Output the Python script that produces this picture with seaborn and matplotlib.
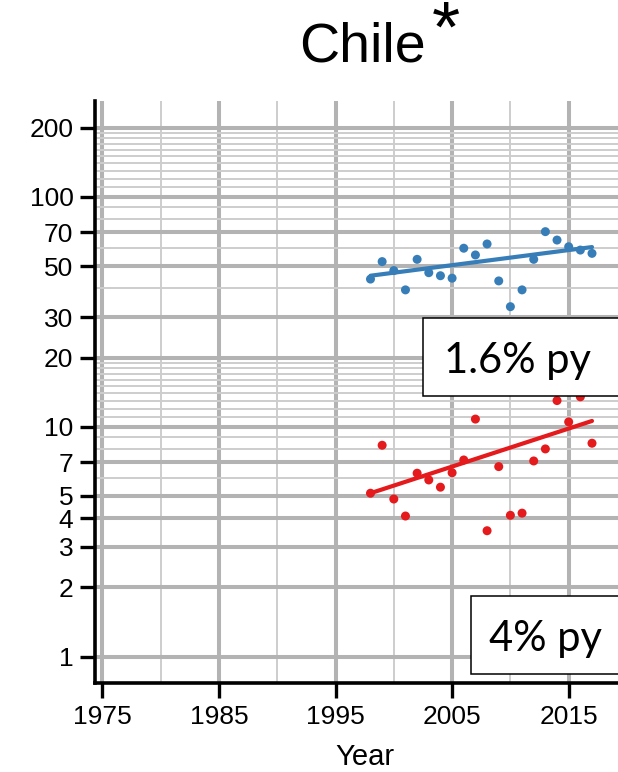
import numpy as np
import pandas as pd
import matplotlib
matplotlib.use("Agg")
import matplotlib.pyplot as plt
from matplotlib.ticker import FixedLocator, NullFormatter
from matplotlib.patches import Rectangle
import seaborn as sns

# ---- data ----
years = [1998, 1999, 2000, 2001, 2002, 2003, 2004, 2005, 2006, 2007,
         2008, 2009, 2010, 2011, 2012, 2013, 2014, 2015, 2016, 2017]
blue_vals = [43.9, 52.3, 47.8, 39.4, 53.5, 46.8, 45.4, 44.3, 59.8, 55.9,
             62.4, 43.1, 33.3, 39.4, 53.5, 70.6, 64.9, 60.7, 58.7, 56.8]
red_vals = [5.14, 8.31, 4.85, 4.09, 6.28, 5.87, 5.46, 6.31, 7.17, 10.8,
            3.53, 6.71, 4.12, 4.21, 7.10, 8.01, 13.0, 10.5, 13.5, 8.48]
# trend lines (start/end of fitted growth)
fit_years = [1998, 2017]
blue_fit = [45.4, 60.5]
red_fit = [5.14, 10.6]
y_ticks = [1, 2, 3, 4, 5, 7, 10, 20, 30, 50, 70, 100, 200]
y_minor = [6, 8, 9, 11, 12, 13, 14, 15, 16, 17, 18, 19, 40, 60, 80, 90,
           110, 120, 130, 140, 150, 160, 170, 180, 190]
x_ticks = [1975, 1985, 1995, 2005, 2015]
x_minor = [1980, 1990, 2000, 2010]
title = "Chile"
blue_label = "1.6% py"
red_label = "4% py"
x_label = "Year"

BLUE = "#377eb8"
RED = "#e41a1c"

sns.set_style("white")
plt.rcParams['font.family'] = ['Liberation Sans', 'DejaVu Sans']
plt.rcParams['text.color'] = 'black'
plt.rcParams['xtick.color'] = 'black'
plt.rcParams['ytick.color'] = 'black'
plt.rcParams['axes.labelcolor'] = 'black'

fig = plt.figure(figsize=(6.18, 7.72), dpi=100)
ax = fig.add_axes([95 / 618, 89 / 772, 1 - 95 / 618, 582 / 772])

df = pd.DataFrame({"year": years, "blue": blue_vals, "red": red_vals})
fit_df = pd.DataFrame({"year": fit_years, "blue": blue_fit, "red": red_fit})

for col, colr in (("blue", BLUE), ("red", RED)):
    sns.scatterplot(data=df, x="year", y=col, color=colr, s=42,
                    edgecolor="none", ax=ax, zorder=3)
    sns.lineplot(data=fit_df, x="year", y=col, color=colr, lw=3.0,
                 ax=ax, zorder=3)

ax.set_yscale("log")
ax.set_ylim(0.768, 261.3)
ax.set_xlim(1974.37, 2019.23)

ax.yaxis.set_major_locator(FixedLocator(y_ticks))
ax.set_yticklabels([str(v) for v in y_ticks])
ax.yaxis.set_minor_locator(FixedLocator(y_minor))
ax.yaxis.set_minor_formatter(NullFormatter())
ax.xaxis.set_major_locator(FixedLocator(x_ticks))
ax.set_xticklabels([str(v) for v in x_ticks])
ax.xaxis.set_minor_locator(FixedLocator(x_minor))

ax.set_axisbelow(True)
ax.grid(which="major", color="#b3b3b3", lw=2.9)
ax.grid(which="minor", color="#cdcdcd", lw=1.4)

ax.tick_params(which="major", direction="out", length=10.5, width=2.4,
               color="black", labelsize=19, pad=5, left=True, bottom=True,
               labelcolor="black")
ax.tick_params(which="minor", length=0)

for s in ("top", "right"):
    ax.spines[s].set_visible(False)
for s in ("left", "bottom"):
    ax.spines[s].set_visible(True)
    ax.spines[s].set_color("black")
    ax.spines[s].set_linewidth(2.6)

ax.set_xlabel("")
ax.set_ylabel("")

# x label
fig.text(365 / 618, 1 - 757 / 772, x_label, ha="center", va="center",
         fontsize=21, color="black")

# title and asterisk
fig.text(299 / 618, 1 - 61 / 772, title, ha="left", va="baseline",
         fontsize=40, color="black")
fig.text(432 / 618, 1 - 0 / 772, "*", ha="left", va="top", fontsize=52,
         color="black")

# annotation boxes
fig.patches.append(Rectangle((423.3 / 618, 1 - 396 / 772), 300 / 618, 77.7 / 772,
                             transform=fig.transFigure, facecolor="white",
                             edgecolor="black", lw=1.1, zorder=5))
fig.patches.append(Rectangle((471 / 618, 1 - 674.3 / 772), 300 / 618, 78.3 / 772,
                             transform=fig.transFigure, facecolor="white",
                             edgecolor="black", lw=1.1, zorder=5))
fig.text(444 / 618, 1 - 373.3 / 772, blue_label, ha="left", va="baseline",
         fontsize=30, family=["Lato", "DejaVu Sans"], zorder=6, color="black")
fig.text(489 / 618, 1 - 651 / 772, red_label, ha="left", va="baseline",
         fontsize=30, family=["Lato", "DejaVu Sans"], zorder=6, color="black")

fig.savefig("out.png", dpi=100)
